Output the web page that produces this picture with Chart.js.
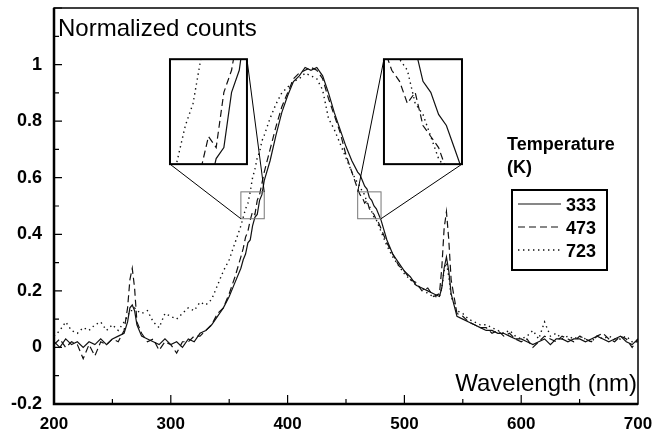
<!DOCTYPE html>
<html>
<head>
<meta charset="utf-8">
<script src="https://cdn.jsdelivr.net/npm/chart.js@4/dist/chart.umd.min.js"></script>
<style>
html,body{margin:0;padding:0;background:#fff;}
canvas{display:block;}
</style>
</head>
<body>
<canvas id="c" width="656" height="430"></canvas>
<script>
// ---------- DATA ----------
const wavelengths = [
  200,205,210,215,220,225,230,235,240,245,250,255,260,
  263,265,267,269,271,
  275,280,285,290,295,300,305,310,315,320,325,330,335,340,345,350,355,
  360,362,364,366,368,370,372,374,376,378,380,
  385,390,395,400,405,410,415,420,425,430,435,440,445,450,455,
  460,462,464,466,468,470,472,474,476,478,480,
  485,490,495,500,505,510,515,520,525,530,
  532,534,536,538,540,
  545,550,555,560,565,570,575,580,585,590,595,600,605,610,615,620,625,630,635,640,645,650,655,660,665,670,675,680,685,690,695,700
];
const counts333 = [
  0.02,0.00,0.03,0.01,0.02,0.00,0.02,0.01,0.03,0.01,0.03,0.04,0.05,
  0.09,0.14,0.15,0.13,0.08,
  0.04,0.03,0.02,0.01,0.03,0.01,0.02,0.00,0.03,0.02,0.05,0.06,0.08,0.11,0.14,0.18,0.23,
  0.28,0.31,0.33,0.37,0.38,0.43,0.46,0.47,0.52,0.54,0.59,
  0.66,0.75,0.83,0.89,0.94,0.96,0.99,0.98,0.99,0.96,0.90,0.83,0.77,0.71,0.66,
  0.62,0.61,0.59,0.57,0.56,0.53,0.52,0.50,0.49,0.47,0.45,
  0.38,0.33,0.30,0.27,0.25,0.22,0.21,0.20,0.19,0.18,
  0.21,0.28,0.32,0.27,0.19,
  0.11,0.10,0.09,0.08,0.07,0.06,0.06,0.05,0.05,0.04,0.03,0.03,0.02,0.01,0.02,0.03,0.01,0.03,0.03,0.02,0.03,0.03,0.02,0.03,0.04,0.03,0.02,0.03,0.04,0.02,0.01,0.03
];
const counts473 = [
  0.01,0.03,0.00,0.02,0.01,-0.04,0.01,-0.03,0.02,0.01,0.03,0.02,0.06,
  0.14,0.24,0.28,0.21,0.09,
  0.05,0.02,0.03,-0.01,0.02,0.01,-0.02,0.02,0.02,0.04,0.04,0.06,0.08,0.12,0.14,0.19,0.25,
  0.32,0.35,0.39,0.41,0.45,0.48,0.47,0.52,0.54,0.58,0.62,
  0.70,0.78,0.85,0.90,0.95,0.97,0.98,0.99,0.98,0.95,0.88,0.82,0.76,0.68,0.62,
  0.56,0.54,0.53,0.51,0.52,0.49,0.48,0.47,0.45,0.44,0.42,
  0.37,0.33,0.29,0.27,0.24,0.23,0.20,0.21,0.18,0.19,
  0.28,0.42,0.48,0.38,0.24,
  0.12,0.11,0.09,0.08,0.07,0.07,0.05,0.06,0.04,0.05,0.03,0.02,0.03,0.00,0.02,0.04,0.03,0.02,0.04,0.03,0.02,0.04,0.03,0.02,0.04,0.05,0.03,0.02,0.04,0.03,0.00,0.03
];
const counts723 = [
  0.04,0.06,0.09,0.06,0.05,0.07,0.06,0.08,0.09,0.06,0.08,0.06,0.09,
  0.11,0.13,0.13,0.14,0.13,
  0.12,0.13,0.09,0.07,0.12,0.11,0.10,0.12,0.14,0.13,0.16,0.15,0.17,0.22,0.27,0.31,0.37,
  0.43,0.46,0.49,0.51,0.55,0.60,0.63,0.67,0.69,0.73,0.75,
  0.81,0.86,0.90,0.92,0.94,0.95,0.97,0.96,0.95,0.91,0.81,0.77,0.72,0.67,0.62,
  0.58,0.57,0.55,0.54,0.51,0.50,0.48,0.46,0.45,0.43,0.41,
  0.36,0.32,0.29,0.26,0.24,0.22,0.21,0.19,0.18,0.18,
  0.21,0.27,0.30,0.25,0.18,
  0.13,0.12,0.10,0.09,0.08,0.08,0.07,0.06,0.05,0.06,0.04,0.03,0.04,0.06,0.03,0.09,0.04,0.05,0.03,0.04,0.03,0.04,0.03,0.02,0.04,0.03,0.04,0.03,0.03,0.04,0.02,0.02
];
const temperatures = ['333','473','723'];
const xTickValues = [200,300,400,500,600,700];
const yTickValues = [-0.2,0,0.2,0.4,0.6,0.8,1];

// ---------- STYLES / LAYOUT ----------
const dashes = [[], [7,4], [1.4,3.6]];
const seriesValues = [counts333, counts473, counts723];
const insets = [
  {src:{x0:360,x1:380,y0:0.455,y1:0.55}, box:{x0:299.3,x1:365.2,y0:0.648,y1:1.019},
   links:[['bl','bl'],['tr','tr']]},
  {src:{x0:460,x1:480,y0:0.455,y1:0.55}, box:{x0:482.5,x1:549.3,y0:0.648,y1:1.019},
   links:[['tl','tl'],['br','br']]}
];

const datasets = seriesValues.map((vals,k)=>({
  label: temperatures[k],
  data: wavelengths.map((w,i)=>({x:w, y:vals[i]})),
  borderColor:'#111',
  borderWidth: k===2 ? 1.4 : 1.2,
  borderDash: dashes[k],
  pointRadius:0,
  tension:0,
  fill:false
}));

const FONT = '"Liberation Sans", Arial, Helvetica, sans-serif';

const extras = {
  id:'extras',
  afterDatasetsDraw(chart){
    const ctx = chart.ctx, xs = chart.scales.x, ys = chart.scales.y, a = chart.chartArea;
    ctx.save();
    // frame
    ctx.strokeStyle='#000';
    ctx.lineWidth=1.5;
    ctx.strokeRect(a.left, a.top, a.right-a.left, a.bottom-a.top);
    ctx.lineWidth=2.5;
    ctx.beginPath();
    ctx.moveTo(a.left, a.top); ctx.lineTo(a.left, a.bottom); ctx.lineTo(a.right, a.bottom);
    ctx.stroke();
    // inward ticks
    ctx.lineWidth=1.2;
    ctx.beginPath();
    for(let i=0;i<=14;i++){
      const v=-0.2+i*0.1; const py=ys.getPixelForValue(v);
      const len = (i%2===0)?8:5;
      ctx.moveTo(a.left,py); ctx.lineTo(a.left+len,py);
    }
    for(let v=250; v<700; v+=50){
      const px=xs.getPixelForValue(v);
      const len = (v%100===0)?9:5;
      ctx.moveTo(px,a.bottom); ctx.lineTo(px,a.bottom-len);
    }
    ctx.stroke();

    // insets
    insets.forEach(ins=>{
      const s={l:xs.getPixelForValue(ins.src.x0), r:xs.getPixelForValue(ins.src.x1),
               t:ys.getPixelForValue(ins.src.y1), b:ys.getPixelForValue(ins.src.y0)};
      const B={l:xs.getPixelForValue(ins.box.x0), r:xs.getPixelForValue(ins.box.x1),
               t:ys.getPixelForValue(ins.box.y1), b:ys.getPixelForValue(ins.box.y0)};
      const corner=(R,c)=>({x: c[1]==='l'?R.l:R.r, y: c[0]==='t'?R.t:R.b});
      ctx.setLineDash([]);
      ctx.strokeStyle='#777'; ctx.lineWidth=1;
      ctx.strokeRect(s.l, s.t, s.r-s.l, s.b-s.t);
      ctx.strokeStyle='#000'; ctx.lineWidth=1;
      ctx.beginPath();
      ins.links.forEach(([cb,cs])=>{
        const p=corner(B,cb), q=corner(s,cs);
        ctx.moveTo(p.x,p.y); ctx.lineTo(q.x,q.y);
      });
      ctx.stroke();
      ctx.fillStyle='#fff';
      ctx.fillRect(B.l,B.t,B.r-B.l,B.b-B.t);
      ctx.save();
      ctx.beginPath(); ctx.rect(B.l,B.t,B.r-B.l,B.b-B.t); ctx.clip();
      chart.data.datasets.forEach(ds=>{
        ctx.setLineDash(ds.borderDash||[]);
        ctx.lineWidth=ds.borderWidth; ctx.strokeStyle=ds.borderColor;
        ctx.beginPath();
        ds.data.forEach((p,i)=>{
          const px=B.l+(p.x-ins.src.x0)/(ins.src.x1-ins.src.x0)*(B.r-B.l);
          const py=B.b-(p.y-ins.src.y0)/(ins.src.y1-ins.src.y0)*(B.b-B.t);
          if(i===0) ctx.moveTo(px,py); else ctx.lineTo(px,py);
        });
        ctx.stroke();
      });
      ctx.restore();
      ctx.setLineDash([]);
      ctx.strokeStyle='#000'; ctx.lineWidth=2;
      ctx.strokeRect(B.l,B.t,B.r-B.l,B.b-B.t);
    });

    // axis titles inside the plot
    ctx.fillStyle='#000';
    ctx.font='24px '+FONT;
    ctx.textAlign='left'; ctx.textBaseline='alphabetic';
    ctx.fillText('Normalized counts', 58, 36);
    ctx.textAlign='right';
    ctx.fillText('Wavelength (nm)', 637, 391);

    // legend
    ctx.textAlign='left';
    ctx.font='bold 18px '+FONT;
    ctx.fillText('Temperature', 507, 150);
    ctx.fillText('(K)', 507, 173);
    ctx.lineWidth=2; ctx.strokeStyle='#000';
    ctx.strokeRect(512,190,95,80);
    chart.data.datasets.forEach((ds,k)=>{
      const y=204+k*23;
      ctx.setLineDash(ds.borderDash||[]);
      ctx.lineWidth=ds.borderWidth; ctx.strokeStyle=ds.borderColor;
      ctx.beginPath(); ctx.moveTo(518,y); ctx.lineTo(561,y); ctx.stroke();
      ctx.setLineDash([]);
      ctx.fillText(ds.label, 566, y+7);
    });
    ctx.restore();
  }
};

new Chart(document.getElementById('c'), {
  type:'line',
  data:{datasets},
  options:{
    responsive:false,
    animation:false,
    devicePixelRatio:1,
    layout:{padding:{top:8,right:18,left:0,bottom:0}},
    plugins:{legend:{display:false}, tooltip:{enabled:false}},
    scales:{
      x:{
        type:'linear', min:200, max:700,
        afterFit(s){ s.height=26; s.paddingLeft=0; s.paddingRight=0; },
        afterBuildTicks(s){ s.ticks = xTickValues.map(v=>({value:v})); },
        grid:{display:false, drawTicks:false},
        border:{display:false},
        ticks:{color:'#000', font:{family:FONT, size:17, weight:'bold'}, padding:10, maxRotation:0, autoSkip:false,
               callback:v=>String(v)}
      },
      y:{
        type:'linear', min:-0.2, max:1.2,
        afterFit(s){ s.width=54; s.paddingTop=0; s.paddingBottom=0; },
        afterBuildTicks(s){ s.ticks = yTickValues.map(v=>({value:v})); },
        grid:{display:false, drawTicks:false},
        border:{display:false},
        ticks:{color:'#000', font:{family:FONT, size:18, weight:'bold'}, padding:12, autoSkip:false,
               callback:v=>String(+Number(v).toFixed(1))}
      }
    }
  },
  plugins:[extras]
});
</script>
</body>
</html>
